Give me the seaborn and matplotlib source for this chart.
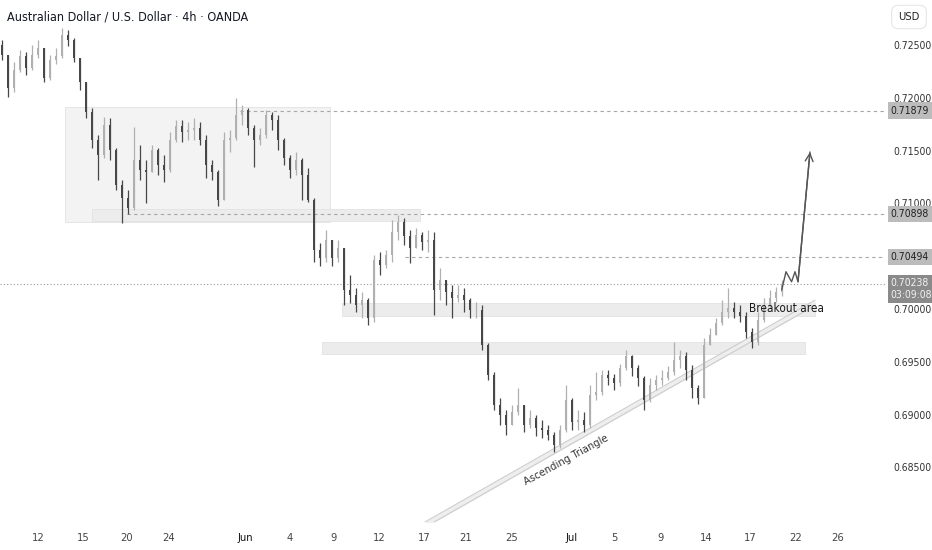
import numpy as np
import pandas as pd
import matplotlib.pyplot as plt
import matplotlib.font_manager as fm
import seaborn as sns
from matplotlib.patches import Rectangle

# 4h candles (resampled)
closes = [0.72405, 0.72093, 0.72263, 0.72396, 0.72282, 0.72405, 0.72472, 0.72187, 0.72358, 0.72396,
          0.72595, 0.72547, 0.72377, 0.72150, 0.71866, 0.71600, 0.71458, 0.71742, 0.71506, 0.71174,
          0.71051, 0.70956, 0.71411, 0.71316, 0.71297, 0.71506, 0.71364, 0.71316, 0.71600, 0.71733,
          0.71676, 0.71695, 0.71714, 0.71600, 0.71364, 0.71297, 0.71032, 0.71600, 0.71619, 0.71837,
          0.71884, 0.71714, 0.71600, 0.71648, 0.71837, 0.71790, 0.71600, 0.71430, 0.71316, 0.71411,
          0.71269, 0.71032, 0.70559, 0.70483, 0.70653, 0.70483, 0.70578, 0.70180, 0.70133, 0.70038,
          0.70085, 0.69915, 0.70464, 0.70417, 0.70511, 0.70729, 0.70824, 0.70691, 0.70578, 0.70701,
          0.70634, 0.70653, 0.70180, 0.70275, 0.70161, 0.70104, 0.70133, 0.70085, 0.69990, 0.69990,
          0.69659, 0.69375, 0.69091, 0.68996, 0.68901, 0.69025, 0.69091, 0.68901, 0.68968, 0.68873,
          0.68854, 0.68807, 0.68712, 0.68854, 0.69138, 0.68930, 0.68949, 0.68901, 0.69186, 0.69214,
          0.69375, 0.69346, 0.69299, 0.69441, 0.69555, 0.69441, 0.69346, 0.69138, 0.69280, 0.69328,
          0.69346, 0.69403, 0.69517, 0.69555, 0.69422, 0.69252, 0.69157, 0.69659, 0.69754, 0.69867,
          0.69972, 0.70009, 0.69972, 0.69934, 0.69782, 0.69687, 0.69896, 0.70038, 0.70104, 0.70161,
          0.70237]
highs = [0.72547, 0.72405, 0.72339, 0.72453, 0.72434, 0.72500, 0.72547, 0.72472, 0.72405, 0.72472,
         0.72661, 0.72642, 0.72566, 0.72377, 0.72150, 0.71903, 0.71648, 0.71818, 0.71809, 0.71525,
         0.71222, 0.71127, 0.71723, 0.71553, 0.71411, 0.71553, 0.71525, 0.71458, 0.71676, 0.71790,
         0.71790, 0.71771, 0.71809, 0.71771, 0.71648, 0.71411, 0.71316, 0.71676, 0.71695, 0.71998,
         0.71932, 0.71903, 0.71742, 0.71714, 0.71884, 0.71866, 0.71837, 0.71619, 0.71458, 0.71487,
         0.71430, 0.71335, 0.71051, 0.70625, 0.70748, 0.70606, 0.70653, 0.70559, 0.70322, 0.70199,
         0.70161, 0.70104, 0.70511, 0.70540, 0.70559, 0.70843, 0.70890, 0.70862, 0.70748, 0.70767,
         0.70729, 0.70748, 0.70729, 0.70388, 0.70256, 0.70227, 0.70227, 0.70199, 0.70104, 0.70066,
         0.70038, 0.69678, 0.69403, 0.69157, 0.69043, 0.69091, 0.69252, 0.69091, 0.69043, 0.68996,
         0.68949, 0.68901, 0.68835, 0.68901, 0.69280, 0.69157, 0.69043, 0.69025, 0.69280, 0.69403,
         0.69422, 0.69422, 0.69384, 0.69479, 0.69612, 0.69564, 0.69470, 0.69365, 0.69346, 0.69375,
         0.69422, 0.69460, 0.69687, 0.69612, 0.69593, 0.69470, 0.69280, 0.69725, 0.69820, 0.69915,
         0.70085, 0.70199, 0.70066, 0.70038, 0.69972, 0.69820, 0.69972, 0.70104, 0.70180, 0.70208,
         0.70275]
lows = [0.72358, 0.72008, 0.72055, 0.72244, 0.72216, 0.72263, 0.72377, 0.72150, 0.72169, 0.72320,
        0.72377, 0.72491, 0.72339, 0.72074, 0.71809, 0.71525, 0.71222, 0.71430, 0.71411, 0.71127,
        0.70814, 0.70900, 0.70937, 0.71222, 0.71004, 0.71297, 0.71269, 0.71203, 0.71297, 0.71581,
        0.71581, 0.71600, 0.71600, 0.71553, 0.71240, 0.71222, 0.70975, 0.71070, 0.71487, 0.71600,
        0.71742, 0.71648, 0.71345, 0.71553, 0.71619, 0.71695, 0.71506, 0.71364, 0.71240, 0.71269,
        0.71032, 0.71013, 0.70445, 0.70407, 0.70445, 0.70407, 0.70445, 0.70038, 0.70057, 0.69972,
        0.69915, 0.69848, 0.69877, 0.70322, 0.70388, 0.70445, 0.70653, 0.70606, 0.70436, 0.70606,
        0.70559, 0.70540, 0.69943, 0.70085, 0.70038, 0.69915, 0.70066, 0.69972, 0.69915, 0.69915,
        0.69612, 0.69328, 0.69043, 0.68901, 0.68807, 0.68930, 0.68996, 0.68835, 0.68873, 0.68797,
        0.68778, 0.68759, 0.68646, 0.68684, 0.68835, 0.68854, 0.68854, 0.68835, 0.68873, 0.69138,
        0.69186, 0.69280, 0.69233, 0.69271, 0.69422, 0.69365, 0.69271, 0.69043, 0.69119, 0.69233,
        0.69280, 0.69328, 0.69375, 0.69441, 0.69328, 0.69157, 0.69100, 0.69157, 0.69659, 0.69754,
        0.69848, 0.69915, 0.69915, 0.69877, 0.69725, 0.69631, 0.69659, 0.69877, 0.70009, 0.70066,
        0.70123]
first_open = 0.72500

# axis labels
date_pos = [6, 13.5, 20.8, 27.8, 40.5, 48, 55.3, 62.8, 70.3, 77.2, 85, 95, 102, 109.7, 117.3, 124.7, 132.2, 139.3]
date_labels = ['12', '15', '20', '24', 'Jun', '4', '9', '12', '17', '21', '25', 'Jul', '5', '9', '14', '17', '22', '26']
price_ticks = [0.725, 0.720, 0.715, 0.710, 0.700, 0.695, 0.690, 0.685]

# drawings
levels = [0.71879, 0.70898, 0.70494]
level_start = [39.7, 20.8, 67.2]
last_price = 0.70238
countdown = '03:09:08'
zones = [  # (x0, x1, low, high)
    (10.5, 54.7, 0.70824, 0.71913),
    (15.0, 69.7, 0.70833, 0.70947),
    (56.7, 135.5, 0.69934, 0.70057),
    (53.3, 133.8, 0.69574, 0.69688),
]
trend_x = [70.5, 135.5]
trend_y = [0.67983, 0.70084]
proj_x = [129.95, 130.67, 131.6, 132.17, 132.67, 134.67]
proj_y = [0.70180, 0.70353, 0.70258, 0.70353, 0.70258, 0.71487]


def narrow_font():
    # prefer a condensed face, the chart text is narrow
    files = fm.findSystemFonts()
    for key in ('LiberationSansNarrow-Regular.ttf', 'DejaVuSansCondensed.ttf'):
        for f in files:
            if f.endswith(key):
                return f
    return None


nf = narrow_font()


def fp(size):
    if nf:
        return fm.FontProperties(fname=nf, size=size)
    return fm.FontProperties(family='Liberation Sans', size=size)


df = pd.DataFrame({'close': closes, 'high': highs, 'low': lows})
df['open'] = [first_open] + closes[:-1]
df['i'] = np.arange(len(df))
df['up'] = df['close'] >= df['open']

sns.set_theme(style='white')
plt.rcParams['font.family'] = ['Liberation Sans', 'DejaVu Sans']

fig = plt.figure(figsize=(9.32, 5.5), dpi=100)
ax = fig.add_axes([0, 28 / 550, 885 / 932, 522 / 550])
ax.set_xlim(-0.33, 147.17)
ax.set_ylim(0.67983, 0.72926)

up_col, dn_col = '#b0b0b0', '#474747'

# zones
for k, (x0, x1, lo, hi) in enumerate(zones):
    fc = '#f3f3f3' if k == 0 else '#ececec'
    ax.add_patch(Rectangle((x0, lo), x1 - x0, hi - lo, facecolor=fc,
                           edgecolor='#e2e2e2', lw=0.6, zorder=0))

# key levels
for lv, xs in zip(levels, level_start):
    ax.hlines(lv, xs, 147.17, colors='#a6a6a6', linestyles=(0, (3, 3)), lw=0.8, zorder=1)
ax.axhline(last_price, color='#9a9a9a', ls=(0, (1, 2)), lw=0.8, zorder=1)

# candles
cols = np.where(df['up'], up_col, dn_col)
wlo = np.minimum(df['low'], np.minimum(df['open'], df['close']))
whi = np.maximum(df['high'], np.maximum(df['open'], df['close']))
ax.vlines(df['i'], wlo, whi, colors=cols, lw=0.9, zorder=3)
body_lo = np.minimum(df['open'], df['close'])
body_h = np.maximum(np.abs(df['close'] - df['open']), 0.00004)
ax.bar(df['i'], body_h, bottom=body_lo, width=0.42, color=cols, lw=0, zorder=4)

# ascending trend line (double line band)
off = 0.00050
ax.fill_between(trend_x, trend_y, [v - off for v in trend_y], color='#eeeeee', lw=0, zorder=2)
ax.plot(trend_x, trend_y, color='#cccccc', lw=0.8, zorder=2)
ax.plot(trend_x, [v - off for v in trend_y], color='#cccccc', lw=0.8, zorder=2)
ax.text(94, 0.6857, 'Ascending Triangle', rotation=28.5, rotation_mode='anchor',
        ha='center', va='center', fontproperties=fp(8), color='#333333', zorder=5)
ax.text(130.8, 0.7000, 'Breakout area', ha='center', va='center', fontproperties=fp(8.5),
        color='#1a1a1a', zorder=6)

# projection
proj = pd.DataFrame({'x': proj_x, 'y': proj_y})
sns.lineplot(data=proj, x='x', y='y', sort=False, color='#555555', lw=1, ax=ax, zorder=5)
ax.annotate('', xy=(proj_x[-1], proj_y[-1]), xytext=(proj_x[-2], proj_y[-2]),
            arrowprops=dict(arrowstyle='->', color='#555555', lw=1, mutation_scale=14,
                            shrinkA=0, shrinkB=0), zorder=5)

# axes styling
for s in ax.spines.values():
    s.set_visible(False)
ax.set_xlabel('')
ax.set_ylabel('')
ax.set_xticks(date_pos)
ax.set_xticklabels(date_labels)
for lab in ax.get_xticklabels():
    lab.set_fontproperties(fp(8))
    lab.set_color('#111111' if lab.get_text() in ('Jun', 'Jul') else '#444444')
ax.tick_params(axis='x', length=0, pad=8)
ax.yaxis.tick_right()
ax.set_yticks(price_ticks)
ax.set_yticklabels([f'{p:.5f}' for p in price_ticks])
for lab in ax.get_yticklabels():
    lab.set_fontproperties(fp(7.5))
    lab.set_color('#333333')
ax.tick_params(axis='y', length=0, pad=6)

# price tags
ytr = ax.get_yaxis_transform()
for lv in levels:
    ax.text(1.0065, lv, f'{lv:.5f}', transform=ytr, ha='left', va='center', fontproperties=fp(7.5),
            color='#222222', clip_on=False,
            bbox=dict(boxstyle='square,pad=0.3', fc='#bcbcbc', ec='none'))
ax.text(1.0065, last_price + 0.00055, f'{last_price:.5f}\n{countdown}', transform=ytr,
        ha='left', va='top', fontproperties=fp(7.5), color='#f2f2f2', linespacing=1.2,
        clip_on=False, bbox=dict(boxstyle='square,pad=0.3', fc='#8a8a8a', ec='none'))

fig.text(7 / 932, 1 - 17 / 550, 'Australian Dollar / U.S. Dollar · 4h · OANDA',
         ha='left', va='center', fontproperties=fp(9), color='#131722')
fig.text(909 / 932, 1 - 17 / 550, 'USD', ha='center', va='center', fontproperties=fp(8),
         color='#222222', bbox=dict(boxstyle='round,pad=0.6', fc='white', ec='#e6e6e6', lw=0.8))

fig.savefig('out.png', dpi=100, facecolor='white')
